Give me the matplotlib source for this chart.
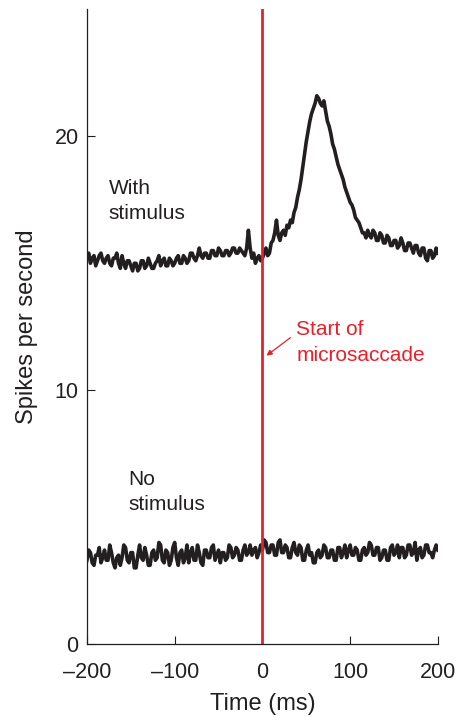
import numpy as np
import matplotlib
matplotlib.use('Agg')
import matplotlib.pyplot as plt

plt.rcParams['font.family'] = ['Liberation Sans', 'DejaVu Sans']

# Time axis (ms), sampled every 2 ms
time_ms = np.arange(-200, 201, 2)

# Firing rate with a stimulus present (spikes/s)
with_stim = [
    15.2, 15.4, 15.0, 15.2, 15.3, 14.9, 15.1, 15.3, 15.4, 15.1, 15.0, 15.2, 15.3, 15.0, 14.9, 15.2, 15.2, 15.4, 15.0, 14.8,
    15.3, 15.0, 14.8, 15.1, 15.1, 14.9, 14.7, 15.0, 15.0, 14.7, 14.8, 15.1, 15.1, 14.8, 14.9, 15.2, 15.0, 14.8, 14.8, 15.0,
    15.1, 15.3, 14.9, 15.1, 15.2, 14.9, 14.9, 15.2, 15.1, 14.9, 15.0, 15.2, 15.3, 15.0, 15.0, 15.3, 15.2, 15.0, 15.1, 15.4,
    15.4, 15.2, 15.1, 15.3, 15.6, 15.3, 15.2, 15.4, 15.4, 15.2, 15.2, 15.5, 15.5, 15.3, 15.3, 15.6, 15.5, 15.3, 15.3, 15.5,
    15.5, 15.3, 15.4, 15.6, 15.6, 15.4, 15.4, 15.6, 15.5, 15.4, 15.3, 15.6, 16.3, 15.6, 15.2, 15.4, 15.0, 15.2, 15.3, 15.1,
    15.2, 15.4, 15.6, 15.3, 15.4, 15.8, 15.9, 16.2, 16.7, 16.1, 15.9, 16.2, 16.3, 16.1, 16.5, 16.4, 16.7, 16.6, 17.0, 17.2,
    17.6, 17.9, 18.3, 18.8, 19.3, 19.8, 20.2, 20.6, 20.9, 21.1, 21.3, 21.6, 21.5, 21.3, 21.2, 21.4, 21.0, 20.6, 20.4, 20.1,
    19.7, 19.5, 19.2, 18.9, 18.7, 18.5, 18.3, 18.0, 17.8, 17.6, 17.4, 17.3, 17.1, 16.8, 16.7, 16.6, 16.4, 16.2, 16.2, 16.0,
    16.3, 16.1, 16.0, 16.3, 16.2, 15.9, 15.9, 16.2, 16.1, 15.8, 15.8, 16.1, 16.0, 15.7, 15.7, 15.9, 15.9, 15.6, 15.7, 16.0,
    15.8, 15.5, 15.5, 15.8, 15.8, 15.6, 15.4, 15.7, 15.7, 15.4, 15.3, 15.6, 15.6, 15.2, 15.1, 15.5, 15.5, 15.2, 15.3, 15.6,
    15.4,
]

# Firing rate without a stimulus
no_stim = [
    3.3, 3.7, 3.6, 3.2, 3.1, 3.5, 3.5, 3.8, 3.2, 3.4, 3.7, 3.3, 3.3, 3.9, 3.6, 3.2, 3.0, 3.4, 3.5, 3.1,
    3.4, 3.9, 3.8, 3.3, 3.2, 3.6, 3.6, 3.0, 3.0, 3.5, 3.9, 3.4, 3.3, 3.8, 3.5, 3.1, 3.1, 3.6, 3.7, 3.3,
    3.4, 4.0, 3.9, 3.3, 3.2, 3.7, 3.6, 3.1, 3.3, 3.8, 4.0, 3.4, 3.1, 3.6, 3.7, 3.2, 3.4, 3.9, 3.2, 3.6,
    3.8, 3.3, 3.3, 3.9, 3.6, 3.2, 3.1, 3.7, 3.7, 3.4, 3.4, 3.8, 3.9, 3.3, 3.5, 3.7, 3.2, 3.6, 3.6, 3.3,
    3.4, 3.9, 3.8, 3.4, 3.5, 3.8, 3.7, 3.3, 3.3, 3.7, 3.9, 3.5, 3.6, 3.9, 3.5, 3.7, 3.8, 3.4, 3.6, 3.9,
    3.7, 4.1, 4.0, 3.6, 3.6, 3.9, 3.9, 3.5, 3.5, 4.0, 4.1, 3.6, 3.6, 3.9, 3.8, 3.4, 3.4, 3.8, 4.0, 3.6,
    3.5, 3.9, 3.8, 3.3, 3.3, 3.7, 3.9, 3.5, 3.6, 3.2, 3.2, 3.6, 3.7, 3.4, 3.5, 3.9, 3.8, 3.4, 3.4, 3.7,
    3.7, 3.3, 3.3, 3.8, 3.8, 3.4, 3.6, 3.9, 3.4, 3.7, 3.9, 3.5, 3.5, 3.8, 3.7, 3.3, 3.3, 3.7, 3.8, 3.5,
    3.6, 4.0, 3.9, 3.5, 3.5, 3.8, 3.8, 3.3, 3.4, 3.7, 3.7, 3.3, 3.3, 3.8, 3.9, 3.5, 3.6, 3.9, 3.4, 3.8,
    3.8, 3.4, 3.5, 3.9, 3.9, 3.5, 3.6, 4.0, 3.3, 3.7, 3.8, 3.4, 3.5, 3.9, 3.9, 3.6, 3.6, 3.4, 3.7, 3.9,
    3.7,
]

x_ticks = [-200, -100, 0, 100, 200]
x_labels = ['\u2013200', '\u2013100', '0', '100', '200']
y_ticks = [0, 10, 20]

trace_col = '#231f20'
red = '#e8202a'

fig = plt.figure(figsize=(4.6, 7.17), dpi=100)
ax = fig.add_axes([0.189, 0.1018, 0.763, 0.885])

ax.plot(time_ms, with_stim, color=trace_col, lw=2.6, solid_joinstyle='round')
ax.plot(time_ms, no_stim, color=trace_col, lw=2.6, solid_joinstyle='round')
ax.axvline(0, color=red, lw=2)

ax.set_xlim(-200, 200)
ax.set_ylim(0, 25)
ax.set_xticks(x_ticks)
ax.set_xticklabels(x_labels)
ax.set_yticks(y_ticks)
ax.tick_params(direction='in', length=6, width=0.8, labelsize=15.5, colors='#231f20')
ax.tick_params(axis='x', pad=13)
ax.tick_params(axis='y', pad=6)

for s in ['top', 'right']:
    ax.spines[s].set_visible(False)
for s in ['left', 'bottom']:
    ax.spines[s].set_linewidth(0.9)
    ax.spines[s].set_color('#231f20')

ax.set_xlabel('Time (ms)', fontsize=17, color='#231f20', labelpad=7)
ax.set_ylabel('Spikes per second', fontsize=17, color='#231f20', labelpad=12)

ax.text(-175.5, 17.45, 'With\nstimulus', fontsize=15, color='#231f20',
        va='center', ha='left', linespacing=1.42)
ax.text(-152.7, 6.0, 'No\nstimulus', fontsize=15, color='#231f20',
        va='center', ha='left', linespacing=1.42)
ax.text(38.7, 11.88, 'Start of\nmicrosaccade', fontsize=15, color=red,
        va='center', ha='left', linespacing=1.42)
ax.annotate('', xy=(4.6, 11.36), xytext=(31.9, 12.07),
            arrowprops=dict(arrowstyle='-|>', color=red, lw=0.9,
                            mutation_scale=8, shrinkA=0, shrinkB=0))

fig.savefig('out.png', dpi=100)
